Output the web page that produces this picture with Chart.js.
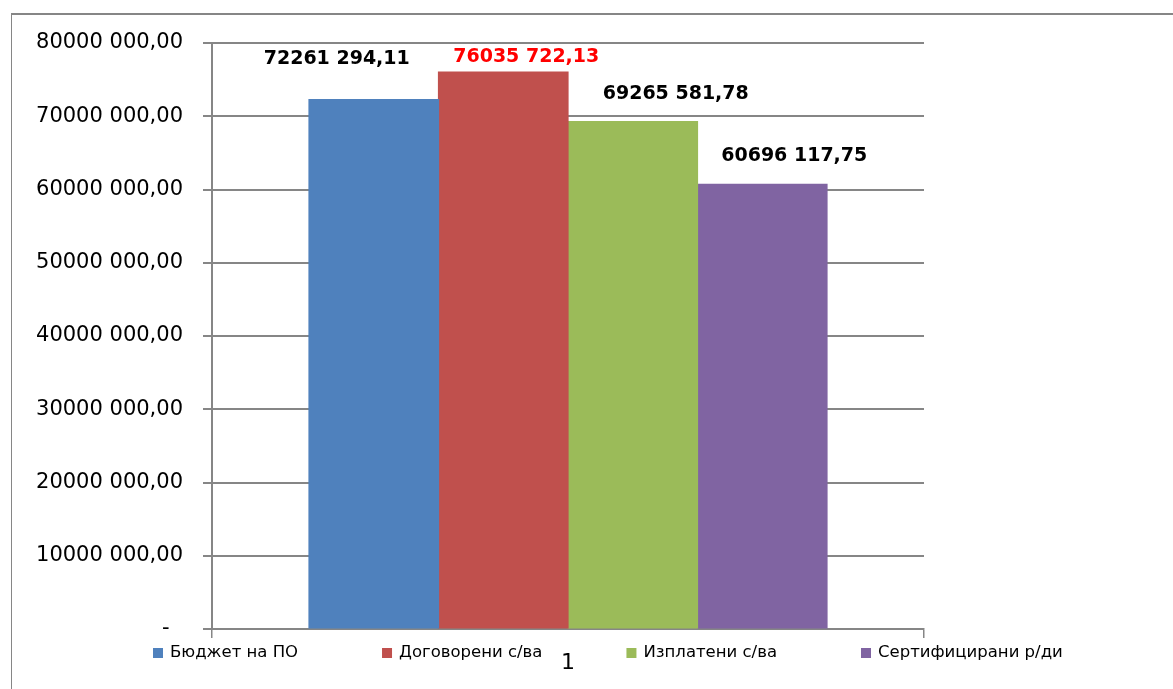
<!DOCTYPE html>
<html>
<head>
<meta charset="utf-8">
<script src="https://cdn.jsdelivr.net/npm/chart.js@4.4.0/dist/chart.umd.min.js"></script>
<style>
  html, body { margin: 0; padding: 0; background: #fff; }
  #wrap { width: 1173px; height: 689px; position: relative; }
</style>
</head>
<body>
<div id="wrap"><canvas id="myChart"></canvas></div>
<script>
const categories = ['1'];
const seriesNames = ['Бюджет на ПО', 'Договорени с/ва', 'Изплатени с/ва', 'Сертифицирани р/ди'];
const budget = [72261294.11];
const contracted = [76035722.13];
const paid = [69265581.78];
const certified = [60696117.75];
const yMax = 80000000;
const yStep = 10000000;

const barColors = ['#4f81bd', '#c0504d', '#9bbb59', '#8064a2'];
const valueColors = ['#000000', '#ff0000', '#000000', '#000000'];
// where each value label sits relative to its bar top (the original is a bit uneven)
const labelShift = [[-37, -41], [23, -15], [43, -28], [32, -28]];

const FONT = 'DejaVu Sans';
const GRID = '#868686';

// 80000 000,00 style, zero shown as a dash
const fmt = v => {
  if (v === 0) return '-  ';
  const [i, d] = v.toFixed(2).split('.');
  return i.slice(0, -3) + ' ' + i.slice(-3) + ',' + d;
};

const frame = {
  id: 'frame',
  beforeDraw(chart) {
    const c = chart.ctx;
    c.save();
    c.fillStyle = '#fff';
    c.fillRect(0, 0, chart.width, chart.height);
    c.strokeStyle = GRID;
    c.lineWidth = 2;
    c.beginPath();
    c.moveTo(11, 14); c.lineTo(chart.width, 14);
    c.stroke();
    c.lineWidth = 1;
    c.beginPath();
    c.moveTo(11.5, 13); c.lineTo(11.5, chart.height);
    c.stroke();
    c.restore();
  }
};

const valueLabels = {
  id: 'valueLabels',
  afterDatasetsDraw(chart) {
    const c = chart.ctx;
    c.save();
    c.font = 'bold 19px "' + FONT + '"';
    c.textAlign = 'center';
    c.textBaseline = 'middle';
    chart.data.datasets.forEach((ds, i) => {
      const bar = chart.getDatasetMeta(i).data[0];
      c.fillStyle = valueColors[i];
      c.fillText(fmt(ds.data[0]), bar.x + labelShift[i][0], bar.y + labelShift[i][1]);
    });
    c.restore();
  }
};

const bottomLegend = {
  id: 'bottomLegend',
  afterDraw(chart) {
    const c = chart.ctx;
    const y = 653;
    let x = chart.chartArea.left - 59;
    c.save();
    c.font = '16.5px "' + FONT + '"';
    c.textBaseline = 'middle';
    c.textAlign = 'left';
    chart.data.datasets.forEach((ds, i) => {
      c.fillStyle = ds.backgroundColor;
      c.fillRect(x, y - 5, 10, 10);
      c.fillStyle = '#000';
      c.fillText(ds.label, x + 17, y);
      x += 17 + c.measureText(ds.label).width + 84;
    });
    c.restore();
  }
};

const ctx = document.getElementById('myChart').getContext('2d');

new Chart(ctx, {
  type: 'bar',
  data: {
    labels: categories,
    datasets: [budget, contracted, paid, certified].map((d, i) => ({
      label: seriesNames[i],
      data: d,
      backgroundColor: barColors[i],
      borderWidth: 0,
      inflateAmount: 0.6,
      barPercentage: 1,
      categoryPercentage: 0.7275
    }))
  },
  options: {
    responsive: true,
    maintainAspectRatio: false,
    animation: false,
    layout: { padding: { left: 0, right: 249, top: 43, bottom: 0 } },
    plugins: {
      legend: { display: false },
      tooltip: { enabled: false }
    },
    scales: {
      x: {
        afterFit(s) { s.height = 60; },
        grid: { drawOnChartArea: false, drawTicks: true, tickLength: 9, color: GRID, lineWidth: 1.5 },
        border: { color: GRID, width: 1.5 },
        ticks: { color: '#000', font: { family: FONT, size: 22 }, padding: 12 }
      },
      y: {
        min: 0,
        max: yMax,
        afterFit(s) { s.width = 212; },
        grid: { color: GRID, lineWidth: 2, tickLength: 9 },
        border: { color: GRID, width: 2 },
        ticks: {
          stepSize: yStep,
          color: '#000',
          padding: 20,
          font: { family: FONT, size: 21 },
          callback: v => fmt(v)
        }
      }
    }
  },
  plugins: [frame, valueLabels, bottomLegend]
});
</script>
</body>
</html>
